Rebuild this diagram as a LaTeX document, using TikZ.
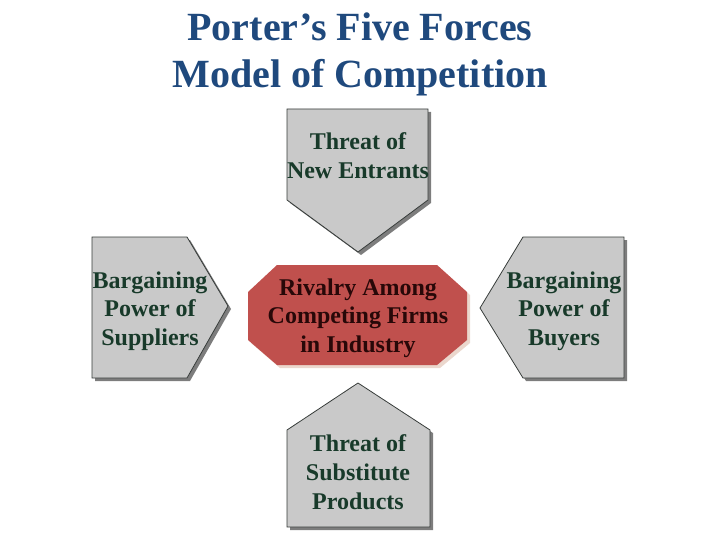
\documentclass[tikz,border=0pt]{standalone}
\usepackage{fontspec}
\setmainfont{Liberation Serif}
\definecolor{boxgray}{RGB}{201,201,201}
\definecolor{boxline}{RGB}{55,60,58}
\definecolor{shadowgray}{RGB}{125,125,125}
\definecolor{txtgreen}{RGB}{24,58,42}
\definecolor{titleblue}{RGB}{31,73,125}
\definecolor{rivalred}{RGB}{192,80,77}
\definecolor{rivaltxt}{RGB}{40,8,8}
\definecolor{rivalshadow}{RGB}{235,215,205}
\begin{document}
\begin{tikzpicture}[x=1pt,y=-1pt,
  force/.style={fill=boxgray, draw=boxline, line width=0.8pt, line join=miter},
  shade/.style={fill=shadowgray},
  lbl/.style={text=txtgreen, font=\bfseries\fontsize{24}{28.7}\selectfont, align=center, inner sep=0pt},
  ttl/.style={text=titleblue, font=\bfseries\fontsize{40}{47}\selectfont, align=center, inner sep=0pt}]
\useasboundingbox (0,0) rectangle (720,540);
% title
\node[ttl] (title) at (360,54) {Porter’s Five Forces\\Model of Competition};
% top: threat of new entrants
\fill[shade] (290,112) -- (431,112) -- (431,203) -- (361,255) -- (290,203) -- cycle;
\draw[force] (287,109) -- (428,109) -- (428,200) -- (358,252) -- (287,200) -- cycle;
\node[lbl] (entrants) at (358,156) {Threat of\\New Entrants};
% left: suppliers
\fill[shade] (95,240) -- (190,240) -- (231,309) -- (190,381) -- (95,381) -- cycle;
\draw[force] (92,237) -- (187,237) -- (228,306) -- (187,378) -- (92,378) -- cycle;
\node[lbl] (suppliers) at (150,311) {Bargaining\\Power of\\Suppliers};
% right: buyers
\fill[shade] (526,240) -- (627,240) -- (627,381) -- (526,381) -- (483,311) -- cycle;
\draw[force] (523,237) -- (624,237) -- (624,378) -- (523,378) -- (480,308) -- cycle;
\node[lbl] (buyers) at (564,311) {Bargaining\\Power of\\Buyers};
% bottom: substitutes
\fill[shade] (290,433) -- (361,386) -- (433,433) -- (433,530) -- (290,530) -- cycle;
\draw[force] (287,430) -- (358,383) -- (430,430) -- (430,527) -- (287,527) -- cycle;
\node[lbl] (substitutes) at (358,472) {Threat of\\Substitute\\Products};
% center: rivalry
\fill[rivalshadow] (280,268) -- (440,268) -- (470,295) -- (470,343) -- (440,368) -- (280,368) -- (251,343) -- (251,295) -- cycle;
\fill[rivalred] (277,265) -- (437,265) -- (467,292) -- (467,340) -- (437,365) -- (277,365) -- (248,340) -- (248,292) -- cycle;
\node[lbl, text=rivaltxt] (rivalry) at (358,318) {Rivalry Among\\Competing Firms\\in Industry};
\end{tikzpicture}
\end{document}
